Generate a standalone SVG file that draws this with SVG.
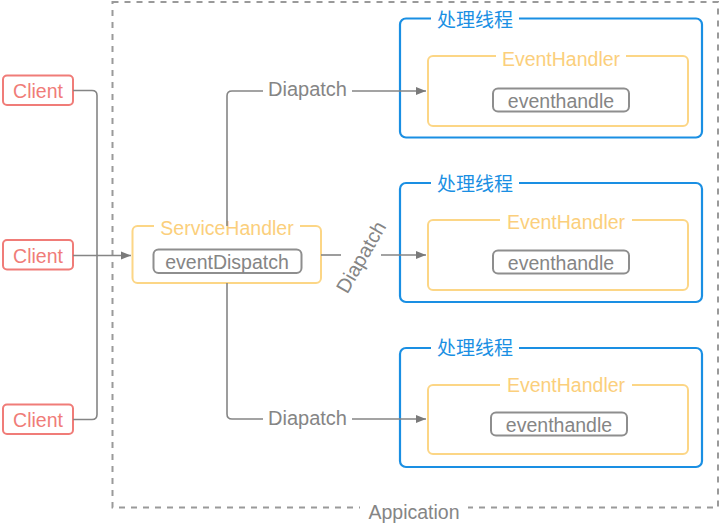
<svg xmlns="http://www.w3.org/2000/svg" width="722" height="528" viewBox="0 0 722 528">
<defs>
<marker id="arr" viewBox="0 0 10 10" refX="10" refY="5" markerWidth="10" markerHeight="10" markerUnits="userSpaceOnUse" orient="auto">
<path d="M0,1 L10,5 L0,9 z" fill="#7a7a7a"/>
</marker>
<style>
text{font-family:"Liberation Sans","Noto Sans CJK SC",sans-serif;font-size:19.5px;text-anchor:middle;dominant-baseline:central}
.client rect{fill:#fff;stroke:#f07c78;stroke-width:2}
.client text{fill:#f07c78}
.outer{fill:none;stroke:#1a8fe3;stroke-width:2.2}
.t{fill:#1a8fe3;font-size:19px}
.eh{fill:none;stroke:#fcd686;stroke-width:2}
.yt{fill:#fbcf7c}
.inner{fill:#fff;stroke:#8e8e8e;stroke-width:2}
.gt{fill:#858585}
.gap{fill:#fff}
.conn path{fill:none;stroke:#858585;stroke-width:1.6}
</style>
</defs>
<rect width="722" height="528" fill="#fff"/>

<g id="application">
<rect x="112.5" y="2" width="605.5" height="505.5" fill="none" stroke="#9a9a9a" stroke-width="2" stroke-dasharray="6,6"/>
<rect class="gap" x="360" y="498" width="108" height="20"/>
<text class="gt" x="414" y="512">Appication</text>
</g>

<g id="client1" class="client"><rect x="3" y="75.5" width="70" height="29.5" rx="4"/><text x="38" y="91">Client</text></g>
<g id="client2" class="client"><rect x="3" y="240" width="70" height="29.5" rx="4"/><text x="38" y="255.5">Client</text></g>
<g id="client3" class="client"><rect x="3" y="404.5" width="70" height="29.5" rx="4"/><text x="38" y="420">Client</text></g>

<g id="serviceHandler">
<rect class="eh" x="132.5" y="226" width="188.5" height="57" rx="5"/>
<rect class="gap" x="154" y="216" width="146" height="22"/>
<text class="yt" x="227" y="228">ServiceHandler</text>
<rect class="inner" x="153.5" y="249.5" width="148" height="23.5" rx="5"/>
<text class="gt" x="227" y="262">eventDispatch</text>
</g>

<g id="thread1">
<rect class="outer" x="400" y="18.5" width="302" height="119" rx="6"/>
<rect class="gap" x="431" y="8" width="88" height="22"/>
<text class="t" x="475" y="20">处理线程</text>
<rect class="eh" x="428" y="56" width="260" height="70" rx="5"/>
<rect class="gap" x="496" y="46" width="130" height="22"/>
<text class="yt" x="561" y="58.5">EventHandler</text>
<rect class="inner" x="493" y="88.5" width="136" height="23" rx="5"/>
<text class="gt" x="561" y="100.5">eventhandle</text>
</g>

<g id="thread2">
<rect class="outer" x="400" y="183" width="302" height="119" rx="6"/>
<rect class="gap" x="431" y="172" width="88" height="22"/>
<text class="t" x="475" y="184">处理线程</text>
<rect class="eh" x="428" y="220" width="260" height="70" rx="5"/>
<rect class="gap" x="500" y="210" width="132" height="22"/>
<text class="yt" x="566" y="221.5">EventHandler</text>
<rect class="inner" x="493" y="250.5" width="136" height="23" rx="5"/>
<text class="gt" x="561" y="262.5">eventhandle</text>
</g>

<g id="thread3">
<rect class="outer" x="400" y="348" width="302" height="119" rx="6"/>
<rect class="gap" x="431" y="337" width="88" height="22"/>
<text class="t" x="475" y="348">处理线程</text>
<rect class="eh" x="428" y="385" width="260" height="69" rx="5"/>
<rect class="gap" x="500" y="374" width="132" height="22"/>
<text class="yt" x="566" y="385">EventHandler</text>
<rect class="inner" x="491" y="412.5" width="136" height="23" rx="5"/>
<text class="gt" x="559" y="424.5">eventhandle</text>
</g>

<g id="connectors" class="conn">
<path d="M73,90.5 H92 Q97,90.5 97,95.5 V255.5"/>
<path d="M73,419.5 H92 Q97,419.5 97,414.5 V255.5"/>
<path d="M73,255.5 H131" marker-end="url(#arr)"/>
<path d="M227,226 V96 Q227,91 232,91 H263"/>
<path d="M352,91 H426" marker-end="url(#arr)"/>
<path d="M227,283 V414 Q227,419 232,419 H263"/>
<path d="M352,419 H426" marker-end="url(#arr)"/>
<path d="M321,255 H341"/>
<path d="M381,255 H426" marker-end="url(#arr)"/>
</g>
<g id="labels">
<text class="gt" x="307.5" y="89" style="font-size:20px">Diapatch</text>
<text class="gt" x="307.5" y="418" style="font-size:20px">Diapatch</text>
<text class="gt" x="361" y="257" transform="rotate(-60 361 257)" style="font-size:20px">Diapatch</text>
</g>
</svg>
